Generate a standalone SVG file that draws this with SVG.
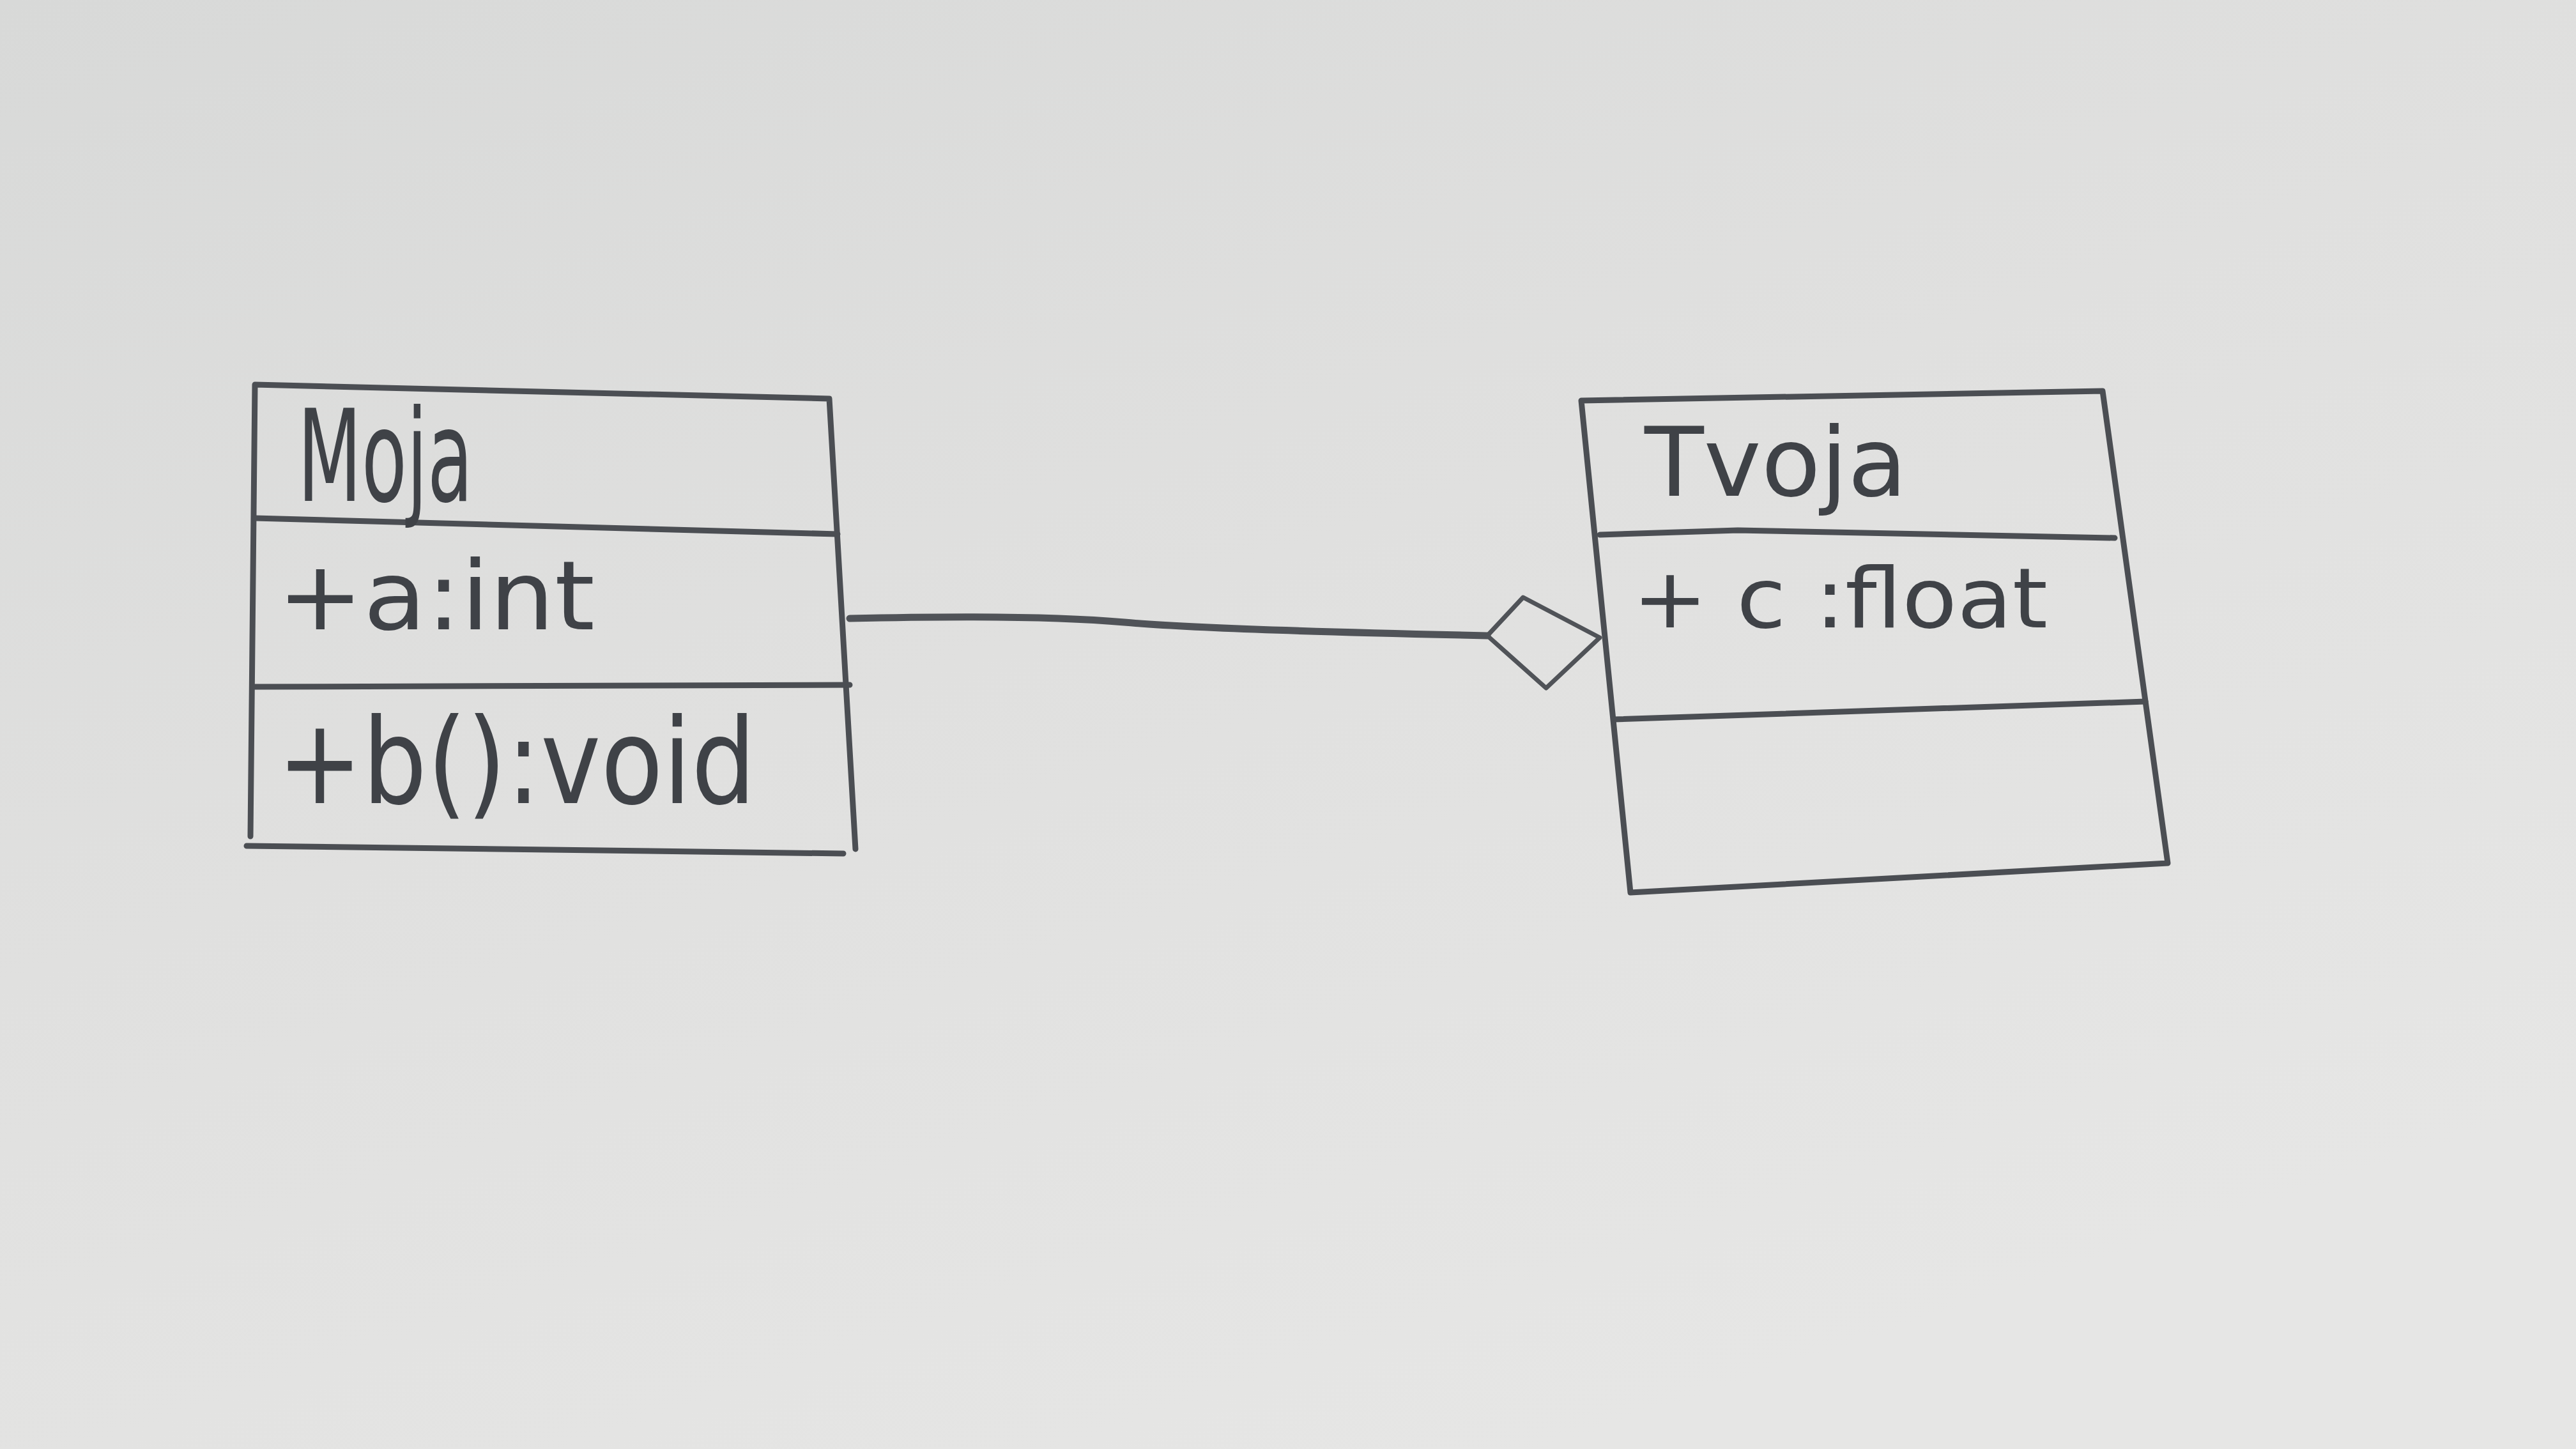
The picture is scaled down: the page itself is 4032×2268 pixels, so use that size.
<svg xmlns="http://www.w3.org/2000/svg" width="4032" height="2268" viewBox="0 0 4032 2268">
<defs>
<linearGradient id="bg" x1="0" y1="0" x2="0.6" y2="1">
<stop offset="0" stop-color="#d8d9d8"/>
<stop offset="0.5" stop-color="#e0e0df"/>
<stop offset="1" stop-color="#e6e6e5"/>
</linearGradient>
<style>
.box{fill:none;stroke:#4b4e53;stroke-width:9;stroke-linejoin:round;stroke-linecap:round}
.div{fill:none;stroke:#4b4e53;stroke-width:9;stroke-linecap:round}
.lbl{font-family:"DejaVu Sans","Liberation Sans",sans-serif;fill:#3f4247;font-weight:normal}
.conn{fill:none;stroke:#505358;stroke-width:11;stroke-linecap:round;stroke-linejoin:round}
.dia{fill:none;stroke:#505358;stroke-width:7;stroke-linejoin:round}
</style>
</defs>
<rect x="0" y="0" width="4032" height="2268" fill="url(#bg)"/>
<g id="Moja">
<path class="box" d="M399,602 L1298,624 L1339,1329 M399,602 L392,1309 M386,1324 L1320,1336"/>
<path class="div" d="M399,811 L1311,836"/>
<path class="div" d="M399,1075 L1330,1072"/>
<text class="lbl" x="466" y="784" font-size="200" textLength="274" lengthAdjust="spacingAndGlyphs">Moja</text>
<text class="lbl" x="434" y="985" font-size="150" textLength="497" lengthAdjust="spacingAndGlyphs">+a:int</text>
<text class="lbl" x="434" y="1257" font-size="185" textLength="749" lengthAdjust="spacingAndGlyphs">+b():void</text>
</g>
<g id="Tvoja">
<path class="box" d="M2475,627 L3291,612 L3393,1351 L2552,1397 Z"/>
<path class="div" d="M2504,837 L2720,830 L3310,842"/>
<path class="div" d="M2526,1126 L3358,1098"/>
<text class="lbl" x="2574" y="776" font-size="150" textLength="411" lengthAdjust="spacingAndGlyphs">Tvoja</text>
<text class="lbl" x="2555" y="982" font-size="130" textLength="650" lengthAdjust="spacingAndGlyphs">+ c :float</text>
</g>
<g id="connectors">
<path class="conn" d="M1330,968 C1500,964 1650,964 1760,974 S2100,990 2328,995"/>
<path class="dia" d="M2328,995 L2384,935 L2504,998 L2420,1077 Z"/>
</g>
</svg>
